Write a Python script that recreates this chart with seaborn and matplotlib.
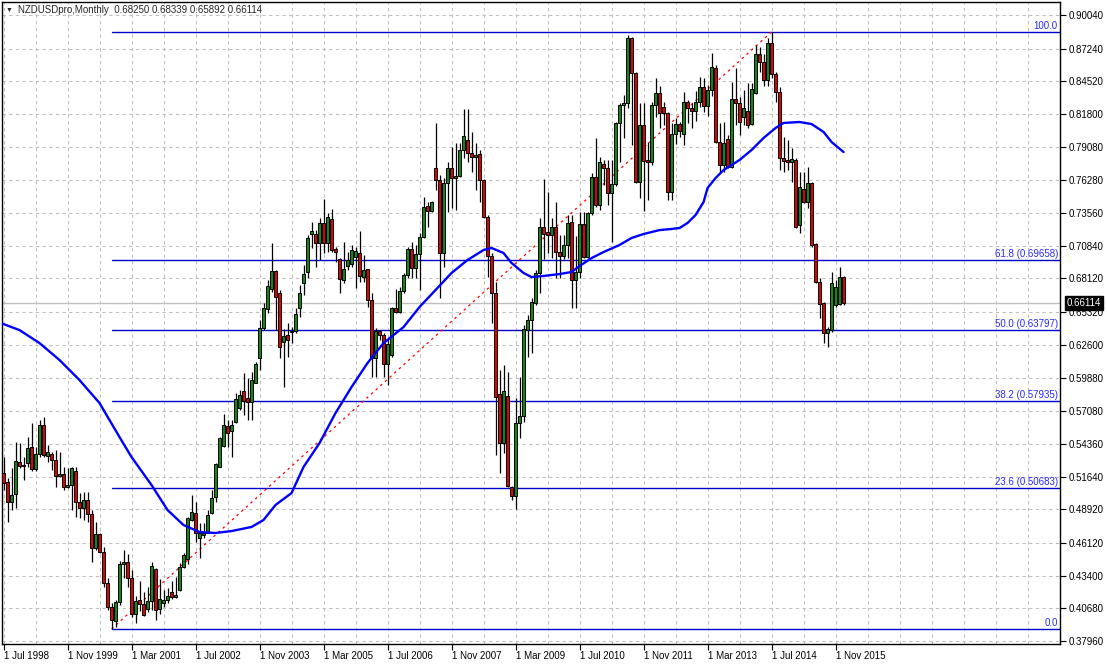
import numpy as np
import pandas as pd
import matplotlib
matplotlib.use('Agg')
import matplotlib.pyplot as plt
import seaborn as sns

# NZDUSD monthly bars, first bar is Jul 1998 (one row = 12 months)
opens = [
    0.5191, 0.5116, 0.4950, 0.5016, 0.5282, 0.5252, 0.5274, 0.5413, 0.5224, 0.5349, 0.5590, 0.5338,
    0.5349, 0.5302, 0.5172, 0.5183, 0.5080, 0.5091, 0.5210, 0.4955, 0.4905, 0.4969, 0.4853, 0.4573,
    0.4686, 0.4539, 0.4276, 0.4076, 0.3960, 0.4121, 0.4437, 0.4451, 0.4317, 0.4021, 0.4137, 0.4104,
    0.4060, 0.4132, 0.4395, 0.4060, 0.4115, 0.4137, 0.4201, 0.4160, 0.4220, 0.4409, 0.4476, 0.4803,
    0.4864, 0.4650, 0.4678, 0.4697, 0.4858, 0.4997, 0.5246, 0.5418, 0.5587, 0.5546, 0.5615, 0.5732,
    0.5876, 0.5815, 0.5782, 0.5945, 0.6148, 0.6403, 0.6555, 0.6724, 0.6874, 0.6688, 0.6281, 0.6342,
    0.6364, 0.6375, 0.6564, 0.6772, 0.6869, 0.7180, 0.7180, 0.7110, 0.7271, 0.7105, 0.7304, 0.7054,
    0.6971, 0.6802, 0.6916, 0.6930, 0.6994, 0.7027, 0.6827, 0.6888, 0.6633, 0.6153, 0.6375, 0.6342,
    0.6098, 0.6176, 0.6564, 0.6536, 0.6711, 0.6841, 0.7055, 0.6897, 0.7016, 0.7160, 0.7415, 0.7376,
    0.7729, 0.7632, 0.7021, 0.7604, 0.7729, 0.7645, 0.7665, 0.7881, 0.7964, 0.7853, 0.7820, 0.7848,
    0.7632, 0.7321, 0.7000, 0.6689, 0.5848, 0.5446, 0.5835, 0.5080, 0.5003, 0.5613, 0.5668, 0.6384,
    0.6467, 0.6605, 0.6855, 0.7243, 0.7201, 0.7174, 0.7243, 0.7035, 0.7002, 0.7090, 0.7279, 0.6800,
    0.6863, 0.7263, 0.6994, 0.7354, 0.7659, 0.7424, 0.7762, 0.7729, 0.7521, 0.7596, 0.8103, 0.8256,
    0.8269, 0.8810, 0.8519, 0.7618, 0.8089, 0.7798, 0.7779, 0.8256, 0.8353, 0.8242, 0.8186, 0.7535,
    0.8011, 0.8095, 0.8011, 0.8278, 0.8233, 0.8206, 0.8280, 0.8408, 0.8250, 0.8380, 0.8560, 0.7950,
    0.7756, 0.7970, 0.7742, 0.8305, 0.8269, 0.8158, 0.8206, 0.8097, 0.8353, 0.8677, 0.8616, 0.8463,
    0.8768, 0.8511, 0.8366, 0.7812, 0.7798, 0.7784, 0.7798, 0.7257, 0.7557, 0.7451, 0.7604, 0.7096,
    0.6786, 0.6605, 0.6356, 0.6384, 0.6592, 0.6597, 0.68250,
]
highs = [
    0.5330, 0.5149, 0.5233, 0.5454, 0.5441, 0.5330, 0.5496, 0.5607, 0.5413, 0.5635, 0.5662, 0.5427,
    0.5371, 0.5385, 0.5371, 0.5246, 0.5233, 0.5246, 0.5246, 0.5025, 0.5038, 0.5038, 0.4886, 0.4789,
    0.4692, 0.4581, 0.4317, 0.4110, 0.4137, 0.4465, 0.4553, 0.4520, 0.4387, 0.4171, 0.4298, 0.4207,
    0.4248, 0.4453, 0.4401, 0.4309, 0.4220, 0.4234, 0.4298, 0.4331, 0.4442, 0.4525, 0.4831, 0.5011,
    0.4955, 0.4775, 0.4775, 0.4886, 0.5052, 0.5280, 0.5496, 0.5685, 0.5635, 0.5635, 0.5856, 0.5884,
    0.6023, 0.5981, 0.6037, 0.6120, 0.6467, 0.6605, 0.6799, 0.7104, 0.6882, 0.6716, 0.6389, 0.6439,
    0.6411, 0.6564, 0.6758, 0.6924, 0.7174, 0.7285, 0.7216, 0.7313, 0.7473, 0.7354, 0.7387, 0.7077,
    0.6980, 0.7118, 0.7035, 0.7091, 0.7077, 0.7207, 0.7008, 0.6891, 0.6689, 0.6403, 0.6384, 0.6356,
    0.6306, 0.6578, 0.6722, 0.6744, 0.6861, 0.7077, 0.7118, 0.7091, 0.7188, 0.7493, 0.7451, 0.7457,
    0.8108, 0.7673, 0.7645, 0.7784, 0.7909, 0.7942, 0.7942, 0.8219, 0.8219, 0.8034, 0.7937, 0.7881,
    0.7640, 0.7340, 0.7021, 0.6786, 0.6051, 0.6093, 0.6037, 0.5083, 0.5815, 0.5990, 0.6425, 0.6508,
    0.6647, 0.6883, 0.7313, 0.7637, 0.7534, 0.7313, 0.7451, 0.7174, 0.7174, 0.7340, 0.7340, 0.7168,
    0.7368, 0.7368, 0.7368, 0.7687, 0.7978, 0.7826, 0.7798, 0.7798, 0.7798, 0.8117, 0.8269, 0.8339,
    0.8838, 0.8824, 0.8530, 0.8269, 0.8269, 0.7950, 0.8283, 0.8483, 0.8416, 0.8283, 0.8194, 0.8103,
    0.8145, 0.8117, 0.8366, 0.8297, 0.8269, 0.8370, 0.8491, 0.8477, 0.8420, 0.8685, 0.8588, 0.8103,
    0.8117, 0.8006, 0.8450, 0.8560, 0.8325, 0.8380, 0.8436, 0.8436, 0.8755, 0.8740, 0.8680, 0.8810,
    0.8864, 0.8530, 0.8408, 0.7992, 0.7964, 0.7895, 0.7812, 0.7701, 0.7701, 0.7742, 0.7618, 0.7105,
    0.6814, 0.6619, 0.6411, 0.6869, 0.6800, 0.6911, 0.68339,
]
lows = [
    0.5052, 0.4789, 0.4886, 0.4900, 0.5233, 0.5135, 0.5246, 0.5213, 0.5213, 0.5330, 0.5330, 0.5288,
    0.5219, 0.5080, 0.5158, 0.5052, 0.5066, 0.4886, 0.4831, 0.4817, 0.4803, 0.4789, 0.4456, 0.4553,
    0.4525, 0.4248, 0.4054, 0.3896, 0.3915, 0.4096, 0.4317, 0.4248, 0.3999, 0.3949, 0.4048, 0.4004,
    0.4040, 0.4054, 0.3971, 0.4021, 0.4082, 0.4110, 0.4143, 0.4151, 0.4215, 0.4404, 0.4437, 0.4797,
    0.4623, 0.4484, 0.4650, 0.4692, 0.4853, 0.4955, 0.5244, 0.5413, 0.5413, 0.5330, 0.5607, 0.5718,
    0.5676, 0.5635, 0.5635, 0.5940, 0.6051, 0.6383, 0.6522, 0.6702, 0.6383, 0.6148, 0.5912, 0.6162,
    0.6273, 0.6356, 0.6495, 0.6675, 0.6813, 0.7063, 0.6911, 0.6966, 0.7021, 0.7035, 0.7035, 0.6952,
    0.6689, 0.6772, 0.6883, 0.6911, 0.6730, 0.6786, 0.6786, 0.6578, 0.5995, 0.5995, 0.6300, 0.5995,
    0.5926, 0.6162, 0.6522, 0.6522, 0.6689, 0.6813, 0.6813, 0.6813, 0.6716, 0.7146, 0.7243, 0.7368,
    0.7548, 0.6647, 0.6911, 0.7368, 0.7396, 0.7382, 0.7659, 0.7812, 0.7784, 0.7701, 0.7548, 0.7451,
    0.7313, 0.6827, 0.6439, 0.5344, 0.5191, 0.5358, 0.5075, 0.4969, 0.4892, 0.5482, 0.5621, 0.6162,
    0.6190, 0.6592, 0.6689, 0.6971, 0.7021, 0.6980, 0.6813, 0.6813, 0.6971, 0.6980, 0.6564, 0.6564,
    0.6814, 0.6980, 0.6980, 0.7340, 0.7410, 0.7382, 0.7590, 0.7424, 0.7119, 0.7584, 0.7784, 0.7978,
    0.8228, 0.7923, 0.7604, 0.7479, 0.7374, 0.7465, 0.7756, 0.8158, 0.8061, 0.8089, 0.7465, 0.7465,
    0.7928, 0.7992, 0.7923, 0.8103, 0.8061, 0.8120, 0.8240, 0.8200, 0.8160, 0.8330, 0.7937, 0.7687,
    0.7701, 0.7729, 0.7729, 0.8089, 0.8006, 0.8089, 0.8061, 0.8089, 0.8344, 0.8530, 0.8410, 0.8410,
    0.8477, 0.8283, 0.7715, 0.7701, 0.7715, 0.7618, 0.7230, 0.7188, 0.7440, 0.7396, 0.7077, 0.6772,
    0.6481, 0.6273, 0.6245, 0.6370, 0.6578, 0.6592, 0.65892,
]
closes = [
    0.5108, 0.4950, 0.5011, 0.5294, 0.5252, 0.5260, 0.5399, 0.5224, 0.5349, 0.5590, 0.5344, 0.5366,
    0.5302, 0.5172, 0.5183, 0.5080, 0.5091, 0.5233, 0.4955, 0.4905, 0.4969, 0.4853, 0.4573, 0.4686,
    0.4539, 0.4276, 0.4076, 0.3971, 0.4121, 0.4437, 0.4451, 0.4317, 0.4021, 0.4129, 0.4104, 0.4013,
    0.4132, 0.4420, 0.4054, 0.4146, 0.4137, 0.4171, 0.4160, 0.4179, 0.4409, 0.4509, 0.4817, 0.4869,
    0.4692, 0.4697, 0.4697, 0.4844, 0.4983, 0.5266, 0.5482, 0.5593, 0.5524, 0.5593, 0.5807, 0.5843,
    0.5793, 0.5782, 0.5967, 0.6101, 0.6397, 0.6564, 0.6749, 0.6874, 0.6661, 0.6245, 0.6333, 0.6300,
    0.6375, 0.6514, 0.6694, 0.6850, 0.7146, 0.7207, 0.7110, 0.7271, 0.7105, 0.7321, 0.7049, 0.7030,
    0.6805, 0.6888, 0.6966, 0.7049, 0.7041, 0.6833, 0.6883, 0.6633, 0.6153, 0.6375, 0.6342, 0.6098,
    0.6264, 0.6564, 0.6536, 0.6711, 0.6841, 0.7055, 0.6897, 0.7016, 0.7160, 0.7410, 0.7376, 0.7451,
    0.7632, 0.7021, 0.7604, 0.7729, 0.7645, 0.7665, 0.7881, 0.7998, 0.7853, 0.7820, 0.7839, 0.7632,
    0.7321, 0.7000, 0.6689, 0.5829, 0.5446, 0.5876, 0.5086, 0.5003, 0.5613, 0.5668, 0.6389, 0.6467,
    0.6619, 0.6855, 0.7243, 0.7180, 0.7174, 0.7243, 0.7035, 0.7002, 0.7090, 0.7271, 0.6800, 0.6863,
    0.7263, 0.6994, 0.7354, 0.7659, 0.7424, 0.7784, 0.7729, 0.7521, 0.7596, 0.8103, 0.8256, 0.8269,
    0.8810, 0.8519, 0.7618, 0.8089, 0.7790, 0.7779, 0.8256, 0.8353, 0.8186, 0.8186, 0.7535, 0.8011,
    0.8095, 0.8039, 0.8278, 0.8233, 0.8206, 0.8280, 0.8408, 0.8250, 0.8380, 0.8574, 0.7950, 0.7756,
    0.7937, 0.7742, 0.8305, 0.8269, 0.8117, 0.8228, 0.8089, 0.8389, 0.8677, 0.8616, 0.8463, 0.8768,
    0.8511, 0.8366, 0.7812, 0.7790, 0.7784, 0.7804, 0.7243, 0.7571, 0.7451, 0.7604, 0.7091, 0.6786,
    0.6597, 0.6356, 0.6392, 0.6772, 0.6739, 0.6827, 0.66114,
]

# moving average (month index, value)
ma_month = [-1, 0, 4, 9, 14, 19, 24, 29, 32, 37, 41, 45, 49, 53, 57, 62, 65, 68, 72, 75,
            79, 83, 87, 91, 95, 100, 104, 108, 112, 116, 120, 122, 125, 127, 130, 132,
            135, 139, 142, 144, 147, 150, 154, 157, 160, 164, 167, 169, 171, 173, 175,
            176, 178, 180, 184, 187, 190, 193, 195, 199, 202, 205, 207, 210]
ma_value = [0.6441, 0.6433, 0.6383, 0.6275, 0.6134, 0.5967, 0.5776, 0.5493, 0.5327, 0.5094,
            0.4886, 0.4761, 0.4703, 0.4695, 0.4711, 0.4745, 0.4803, 0.4928, 0.5027, 0.5244,
            0.5443, 0.5693, 0.5909, 0.6109, 0.6275, 0.6408, 0.6575, 0.6716, 0.6858, 0.6966,
            0.7049, 0.7066, 0.7024, 0.6941, 0.6858, 0.6824, 0.6833, 0.6849, 0.6866, 0.6916,
            0.6982, 0.7032, 0.7091, 0.7149, 0.7182, 0.7215, 0.7224, 0.7232, 0.7274, 0.7340,
            0.7448, 0.7565, 0.7648, 0.7714, 0.7798, 0.7881, 0.7981, 0.8064, 0.8106, 0.8114,
            0.8097, 0.8031, 0.7947, 0.7864]

# fibonacci retracement drawn from the Oct 2000 low to the Jul 2014 high
fib_level = ['0.0', '23.6', '38.2', '50.0', '61.8', '100.0']
fib_price = [0.38960, 0.50683, 0.57935, 0.63797, 0.69658, 0.88634]
fib_start_month = 27
fib_end_month = 192

x_labels = ['1 Jul 1998', '1 Nov 1999', '1 Mar 2001', '1 Jul 2002', '1 Nov 2003',
            '1 Mar 2005', '1 Jul 2006', '1 Nov 2007', '1 Mar 2009', '1 Jul 2010',
            '1 Nov 2011', '1 Mar 2013', '1 Jul 2014', '1 Nov 2015']
y_ticks = [0.37960, 0.40680, 0.43400, 0.46120, 0.48920, 0.51640, 0.54360, 0.57080,
           0.59880, 0.62600, 0.65320, 0.68120, 0.70840, 0.73560, 0.76280, 0.79080,
           0.81800, 0.84520, 0.87240, 0.90040]
last_price = 0.66114
title = 'NZDUSDpro,Monthly  0.68250 0.68339 0.65892 0.66114'

BULL = '#0f8a0f'
BEAR = '#e00000'
FIB_COLOR = '#0000cc'
FIB_TEXT = '#2a2aff'
GRID = '#c0c0c0'

sns.set_style('white')
plt.rcParams['font.family'] = ['Liberation Sans', 'DejaVu Sans']
FS = 7

df = pd.DataFrame({'open': opens, 'high': highs, 'low': lows, 'close': closes})
df['month'] = np.arange(len(df))
up = df['close'] >= df['open']

fig = plt.figure(figsize=(11.07, 6.65), dpi=100)
ax = fig.add_axes([2 / 1107, 21 / 665, 1058 / 1107, 642 / 665])

# grid
x_major = list(range(0, 16 * len(x_labels), 16))
x_minor = [m for m in range(0, 265, 8) if m not in x_major]
ax.set_xticks(x_major)
ax.set_xticks(x_minor, minor=True)
ax.set_xticklabels(x_labels)
ax.set_yticks(y_ticks)
ax.set_yticklabels(['%.5f' % v for v in y_ticks])
ax.grid(True, which='both', color=GRID, linestyle=(0, (3, 3)), linewidth=0.8)
ax.set_axisbelow(True)

# current price line
ax.axhline(last_price, color='#c0c0c0', lw=1, zorder=1)

# fibonacci levels
for lvl, p in zip(fib_level, fib_price):
    ax.plot([fib_start_month, 270], [p, p], color=FIB_COLOR, lw=1.0, zorder=2)
    txt = lvl if lvl in ('0.0', '100.0') else '%s (%.5f)' % (lvl, p)
    ax.annotate(txt, xy=(0.998, p), xycoords=('axes fraction', 'data'),
                xytext=(0, 1), textcoords='offset points', ha='right', va='bottom',
                fontsize=FS, color=FIB_TEXT)

# trend line of the retracement
ax.plot([fib_start_month, fib_end_month], [fib_price[0], fib_price[-1]],
        color='red', lw=0.9, linestyle=(0, (2, 3)), zorder=2)

# moving average
sns.lineplot(x=ma_month, y=ma_value, ax=ax, color='#0000ff', lw=1.7, sort=False, zorder=5)

# candles
ax.vlines(df['month'], df['low'], df['high'], color='black', lw=0.9, zorder=3)
ax.bar(df['month'], (df['close'] - df['open']).abs(),
       bottom=df[['open', 'close']].min(axis=1), width=0.66,
       color=np.where(up, BULL, BEAR), edgecolor='black', linewidth=0.7, zorder=4)

ax.set_xlim(-0.375, 264.1)
ax.set_ylim(0.37714, 0.91122)
ax.set_xlabel('')
ax.set_ylabel('')

ax.yaxis.tick_right()
ax.tick_params(axis='y', which='both', length=4, width=0.8, pad=2, labelsize=FS,
               colors='black', direction='out')
ax.tick_params(axis='x', which='major', length=4, width=0.8, pad=1, labelsize=FS,
               colors='black', direction='out', bottom=True)
ax.tick_params(axis='x', which='minor', length=0)
for t in ax.get_xticklabels():
    t.set_horizontalalignment('left')
for s in ax.spines.values():
    s.set_visible(True)
    s.set_color('black')
    s.set_linewidth(1.0)

# last price tag
ax.annotate('%.5f' % last_price, xy=(1.0, last_price), xycoords=('axes fraction', 'data'),
            xytext=(5, 0), textcoords='offset points', ha='left', va='center',
            fontsize=FS, color='white',
            bbox=dict(boxstyle='square,pad=0.2', fc='black', ec='black'))

fig.text(6 / 1107, 1 - 10 / 665, '\u25bc', fontsize=5, va='center', ha='left')
fig.text(18 / 1107, 1 - 10 / 665, title, fontsize=FS, va='center', ha='left')

fig.savefig('out.png', dpi=100, facecolor='white')
